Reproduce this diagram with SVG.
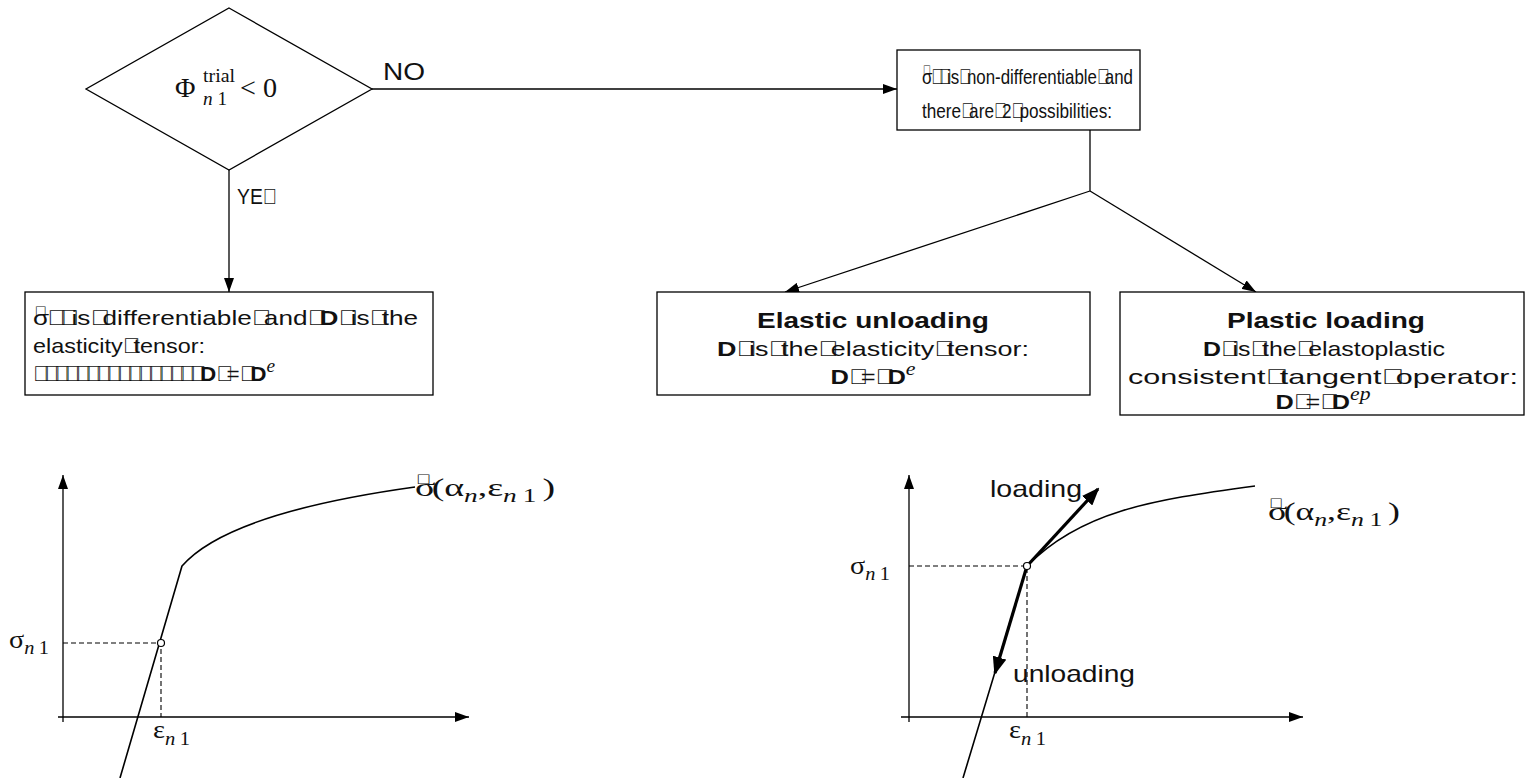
<svg xmlns="http://www.w3.org/2000/svg" width="1526" height="778" viewBox="0 0 1526 778">
  <defs>
    <marker id="ah" viewBox="0 0 14 10" refX="14" refY="5" markerWidth="14" markerHeight="10" markerUnits="userSpaceOnUse" orient="auto">
      <path d="M0,0 L14,5 L0,10 Z" fill="#000"/>
    </marker>
    <marker id="ahb" viewBox="0 0 18 14" refX="16" refY="7" markerWidth="18" markerHeight="14" markerUnits="userSpaceOnUse" orient="auto">
      <path d="M0,0 L18,7 L0,14 Z" fill="#000"/>
    </marker>
  </defs>
  <style>
    .box { fill: #fff; stroke: #000; stroke-width: 1.3; }
    .ln { fill: none; stroke: #000; stroke-width: 1.3; }
    .curve { fill: none; stroke: #000; stroke-width: 1.6; }
    .dash { fill: none; stroke: #000; stroke-width: 1.1; stroke-dasharray: 5 3; }
    .thick { fill: none; stroke: #000; stroke-width: 3.2; }
    .s { font-family: "Liberation Sans", Arial, sans-serif; font-size: 21px; fill: #111; }
    .b { font-weight: bold; }
    .c { text-anchor: middle; }
    .m { font-family: "Liberation Serif", "Times New Roman", serif; font-size: 25px; fill: #111; }
    .sub { font-size: 18px; }
    .i { font-style: italic; }
    .x { letter-spacing: -6px; }
    .acc { font-family: "Liberation Sans", Arial, sans-serif; font-size: 14px; letter-spacing: -10px; font-style: normal; }
  </style>

  <rect width="1526" height="778" fill="#fff"/>

  <!-- connectors -->
  <g id="connectors">
    <line class="ln" x1="372" y1="89" x2="897" y2="89" marker-end="url(#ah)"/>
    <line class="ln" x1="229" y1="170" x2="229" y2="292" marker-end="url(#ah)"/>
    <polyline class="ln" points="1090,130 1090,191"/>
    <line class="ln" x1="1090" y1="191" x2="785" y2="292" marker-end="url(#ah)"/>
    <line class="ln" x1="1090" y1="191" x2="1256" y2="292" marker-end="url(#ah)"/>
    <text class="s" x="383" y="80" style="font-size:23px" textLength="42" lengthAdjust="spacingAndGlyphs">NO</text>
    <text class="s" x="237" y="204" style="font-size:22px" textLength="35" lengthAdjust="spacingAndGlyphs">YE<tspan class="x">&#xF020;</tspan></text>
  </g>

  <!-- decision -->
  <g id="decision">
    <polygon class="box" points="229,8 372,89 229,170 86,89"/>
    <text class="m" x="175" y="97" style="font-size:28px">Φ</text>
    <text class="m sub" x="203" y="82" style="font-size:19px" textLength="32" lengthAdjust="spacingAndGlyphs">trial</text>
    <text class="m sub" x="203" y="105" style="font-size:19px" textLength="24" lengthAdjust="spacingAndGlyphs"><tspan class="i">n</tspan> 1</text>
    <text class="m" x="240" y="97" style="font-size:28px" textLength="37" lengthAdjust="spacingAndGlyphs">&lt; 0</text>
  </g>

  <!-- non-differentiable case -->
  <g id="node-nondiff">
    <rect class="box" x="897" y="50" width="243" height="80"/>
    <text class="s" x="922" y="84" textLength="211" lengthAdjust="spacingAndGlyphs">σ<tspan class="acc" dx="-12" dy="-9">&#xF020;</tspan><tspan class="x" dx="10" dy="9">&#xF020;&#xF020;</tspan>is<tspan class="x">&#xF020;</tspan>non-differentiable<tspan class="x">&#xF020;</tspan>and</text>
    <text class="s" x="922" y="118" textLength="190" lengthAdjust="spacingAndGlyphs">there<tspan class="x">&#xF020;</tspan>are<tspan class="x">&#xF020;</tspan>2<tspan class="x">&#xF020;</tspan>possibilities:</text>
  </g>

  <!-- differentiable case -->
  <g id="node-diff">
    <rect class="box" x="25" y="292" width="408" height="103"/>
    <text class="s" x="33" y="325" textLength="385" lengthAdjust="spacingAndGlyphs">σ<tspan class="acc" dx="-12" dy="-9">&#xF020;</tspan><tspan class="x" dx="10" dy="9">&#xF020;&#xF020;</tspan>is<tspan class="x">&#xF020;</tspan>differentiable<tspan class="x">&#xF020;</tspan>and<tspan class="x">&#xF020;</tspan><tspan class="b">D</tspan><tspan class="x">&#xF020;</tspan>is<tspan class="x">&#xF020;</tspan>the</text>
    <text class="s" x="33" y="353" textLength="172" lengthAdjust="spacingAndGlyphs">elasticity<tspan class="x">&#xF020;</tspan>tensor:</text>
    <text class="s" x="33" y="381" textLength="242" lengthAdjust="spacingAndGlyphs"><tspan class="x">&#xF020;&#xF020;&#xF020;&#xF020;&#xF020;&#xF020;&#xF020;&#xF020;&#xF020;&#xF020;&#xF020;&#xF020;&#xF020;&#xF020;&#xF020;&#xF020;</tspan><tspan class="b">D</tspan><tspan class="x">&#xF020;</tspan>=<tspan class="x">&#xF020;</tspan><tspan class="b">D</tspan><tspan class="m i sub" dy="-9">e</tspan></text>
  </g>

  <!-- elastic unloading -->
  <g id="node-elastic">
    <rect class="box" x="657" y="292" width="433" height="103"/>
    <text class="s b c" x="873" y="328" style="font-size:22px" textLength="232" lengthAdjust="spacingAndGlyphs">Elastic unloading</text>
    <text class="s c" x="873" y="356" textLength="312" lengthAdjust="spacingAndGlyphs"><tspan class="b">D</tspan><tspan class="x">&#xF020;</tspan>is<tspan class="x">&#xF020;</tspan>the<tspan class="x">&#xF020;</tspan>elasticity<tspan class="x">&#xF020;</tspan>tensor:</text>
    <text class="s c" x="873" y="384" textLength="85" lengthAdjust="spacingAndGlyphs"><tspan class="b">D</tspan><tspan class="x">&#xF020;</tspan>=<tspan class="x">&#xF020;</tspan><tspan class="b">D</tspan><tspan class="m i sub" dy="-9">e</tspan></text>
  </g>

  <!-- plastic loading -->
  <g id="node-plastic">
    <rect class="box" x="1120" y="292" width="404" height="123"/>
    <text class="s b c" x="1326" y="328" style="font-size:22px" textLength="198" lengthAdjust="spacingAndGlyphs">Plastic loading</text>
    <text class="s c" x="1324" y="356" textLength="242" lengthAdjust="spacingAndGlyphs"><tspan class="b">D</tspan><tspan class="x">&#xF020;</tspan>is<tspan class="x">&#xF020;</tspan>the<tspan class="x">&#xF020;</tspan>elastoplastic</text>
    <text class="s c" x="1323" y="384" textLength="390" lengthAdjust="spacingAndGlyphs">consistent<tspan class="x">&#xF020;</tspan>tangent<tspan class="x">&#xF020;</tspan>operator:</text>
    <text class="s c" x="1323" y="409" textLength="95" lengthAdjust="spacingAndGlyphs"><tspan class="b">D</tspan><tspan class="x">&#xF020;</tspan>=<tspan class="x">&#xF020;</tspan><tspan class="b">D</tspan><tspan class="m i sub" dy="-9">ep</tspan></text>
  </g>

  <!-- elastic stress-strain sketch -->
  <g id="graph-elastic">
    <line class="ln" x1="63" y1="722" x2="63" y2="475" marker-end="url(#ah)"/>
    <line class="ln" x1="58" y1="717" x2="469" y2="717" marker-end="url(#ah)"/>
    <path class="curve" d="M120,778 L182,566 C215,528 300,503 415,487"/>
    <polyline class="dash" points="63,643 161,643 161,717"/>
    <circle cx="161" cy="643" r="3.5" fill="#fff" stroke="#000" stroke-width="1.2"/>
    <text class="m" x="9" y="648" textLength="40" lengthAdjust="spacingAndGlyphs">σ<tspan class="sub i" dy="6">n</tspan><tspan class="sub" dx="4">1</tspan></text>
    <text class="m" x="153" y="738" textLength="37" lengthAdjust="spacingAndGlyphs">ε<tspan class="sub i" dy="7">n</tspan><tspan class="sub" dx="4">1</tspan></text>
    <text class="m" x="415" y="496" textLength="140" lengthAdjust="spacingAndGlyphs">σ<tspan class="acc" dx="-13" dy="-12">&#xF020;</tspan><tspan dx="10" dy="12">(α</tspan><tspan class="sub i" dy="6">n</tspan><tspan dy="-6">,ε</tspan><tspan class="sub i" dy="6">n</tspan><tspan class="sub" dx="4">1</tspan><tspan dx="4" dy="-6">)</tspan></text>
  </g>

  <!-- elastoplastic stress-strain sketch -->
  <g id="graph-plastic">
    <line class="ln" x1="909" y1="722" x2="909" y2="475" marker-end="url(#ah)"/>
    <line class="ln" x1="901" y1="717" x2="1303" y2="717" marker-end="url(#ah)"/>
    <path class="curve" d="M963,778 L1027,566 C1080,512 1150,500 1255,486"/>
    <polyline class="dash" points="909,566 1027,566 1027,717"/>
    <line class="thick" x1="1027" y1="566" x2="1098" y2="489" marker-end="url(#ahb)"/>
    <line class="thick" x1="1027" y1="566" x2="995" y2="673" marker-end="url(#ahb)"/>
    <circle cx="1027" cy="566" r="3.5" fill="#fff" stroke="#000" stroke-width="1.2"/>
    <text class="s" x="990" y="497" style="font-size:24px" textLength="92" lengthAdjust="spacingAndGlyphs">loading</text>
    <text class="s" x="1013" y="682" style="font-size:24px" textLength="122" lengthAdjust="spacingAndGlyphs">unloading</text>
    <text class="m" x="850" y="574" textLength="40" lengthAdjust="spacingAndGlyphs">σ<tspan class="sub i" dy="6">n</tspan><tspan class="sub" dx="4">1</tspan></text>
    <text class="m" x="1009" y="738" textLength="37" lengthAdjust="spacingAndGlyphs">ε<tspan class="sub i" dy="7">n</tspan><tspan class="sub" dx="4">1</tspan></text>
    <text class="m" x="1268" y="520" textLength="132" lengthAdjust="spacingAndGlyphs">σ<tspan class="acc" dx="-13" dy="-12">&#xF020;</tspan><tspan dx="10" dy="12">(α</tspan><tspan class="sub i" dy="6">n</tspan><tspan dy="-6">,ε</tspan><tspan class="sub i" dy="6">n</tspan><tspan class="sub" dx="4">1</tspan><tspan dx="4" dy="-6">)</tspan></text>
  </g>
</svg>
